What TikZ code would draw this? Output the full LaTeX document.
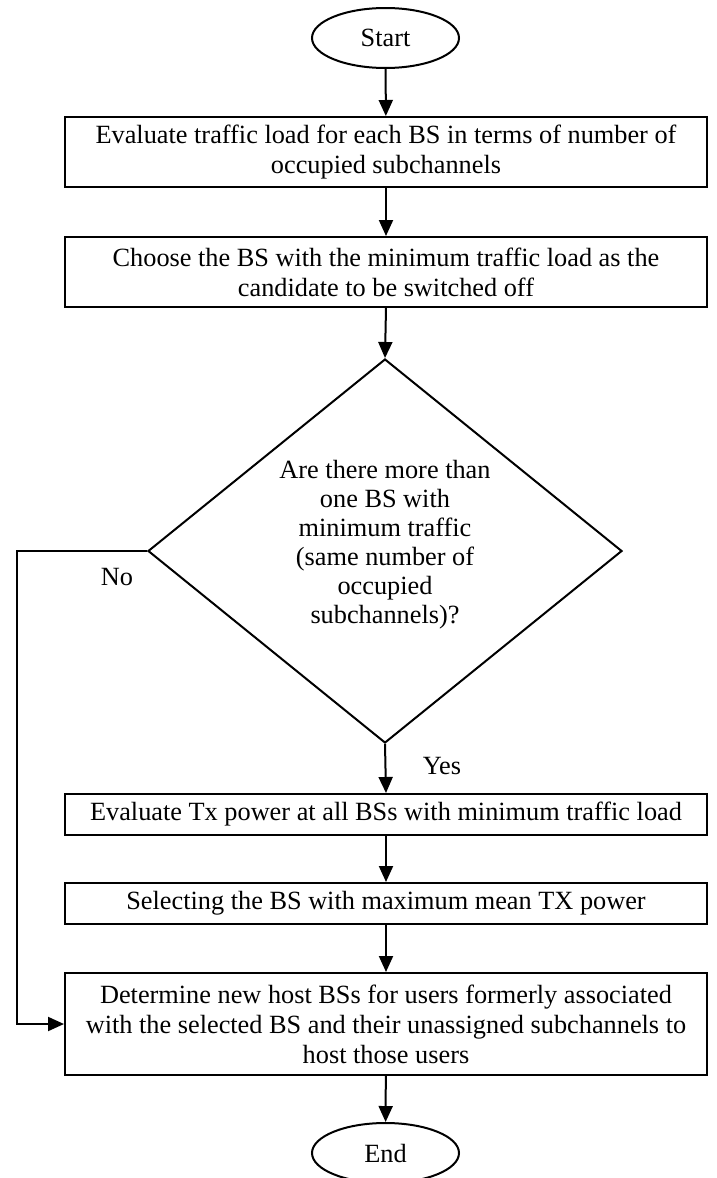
\documentclass[tikz,border=0pt]{standalone}
\usepackage{fontspec}
\setmainfont{Liberation Serif}
\usetikzlibrary{shapes.geometric,arrows.meta}
\begin{document}
\begin{tikzpicture}[x=1pt,y=-1pt,
  every node/.style={font=\fontsize{26.3}{30}\selectfont},
  proc/.style={draw,line width=2pt,rectangle,minimum width=642pt,inner sep=0pt,align=center},
  term/.style={draw,line width=2pt,ellipse,minimum width=147pt,minimum height=60pt,inner sep=0pt},
  arr/.style={line width=2pt,-{Triangle[length=16pt,width=14pt]}},
  lbl/.style={inner sep=0pt}]
\useasboundingbox (0,0) rectangle (717,1178);
\node[term] (start) at (385.5,38) {Start};
\node[proc,minimum height=70pt] (b1) at (386,152) {Evaluate traffic load for each BS in terms of number of\\occupied subchannels};
\node[proc,minimum height=70pt] (b2) at (386,272) {Choose the BS with the minimum traffic load as the\\candidate to be switched off};
\node[draw,line width=2pt,diamond,minimum width=474pt,minimum height=384pt,inner sep=0pt,aspect=1.234] (dia) at (385,551) {};
\node[lbl,align=center,font=\fontsize{26.3}{29}\selectfont] (dtext) at (385,545) {Are there more than\\one BS with\\minimum traffic\\(same number of\\occupied\\subchannels)?};
\node[proc,minimum height=41pt] (b3) at (386,814.5) {Evaluate Tx power at all BSs with minimum traffic load};
\node[proc,minimum height=41pt] (b4) at (386,903.5) {Selecting the BS with maximum mean TX power};
\node[proc,minimum height=102pt] (b5) at (386,1024) {Determine new host BSs for users formerly associated\\with the selected BS and their unassigned subchannels to\\host those users};
\node[term] (end) at (385.5,1153) {End};
\coordinate (lc1) at (17,551);
\coordinate (lc2) at (17,1024);
\draw[arr] (start) -- (b1);
\draw[arr] (b1) -- (b2);
\draw[arr] (b2.south) -- (dia.north);
\draw[arr] (dia.south) -- (b3.north);
\draw[arr] (b3) -- (b4);
\draw[arr] (b4) -- (b5);
\draw[arr] (b5) -- (end);
\draw[arr] (dia.west) -- (lc1) -- (lc2) -- (b5.west);
\node[lbl] (no) at (117,577) {No};
\node[lbl] (yes) at (442,766) {Yes};
\end{tikzpicture}
\end{document}
